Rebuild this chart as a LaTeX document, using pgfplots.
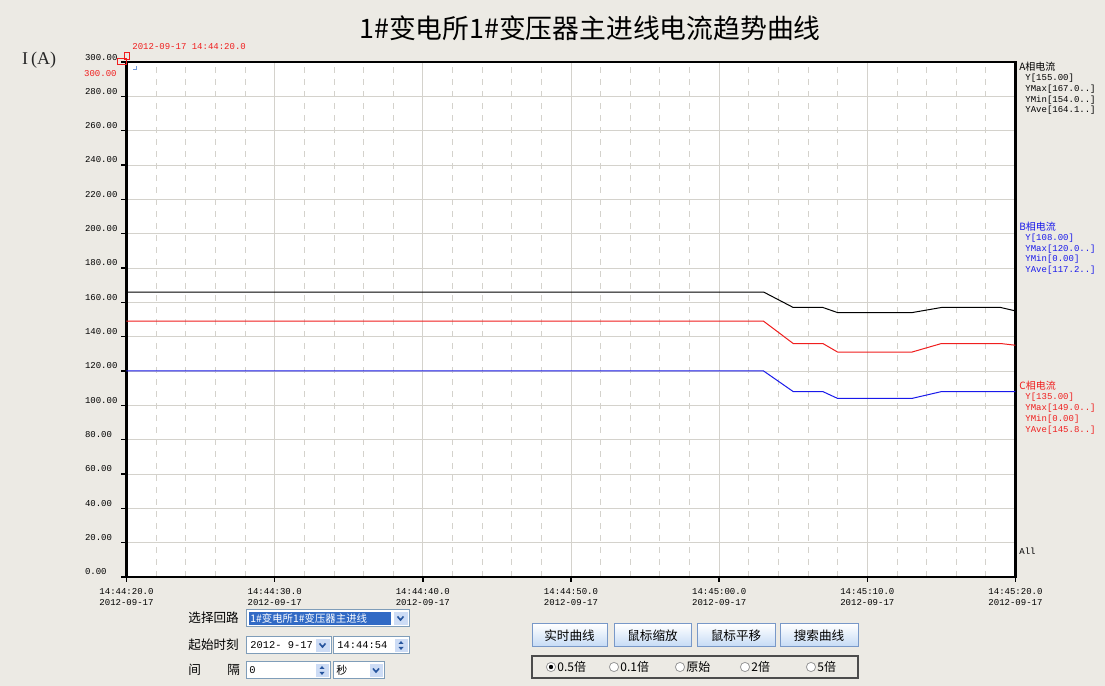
\documentclass[border=0pt]{standalone}
\usepackage{pgfplots}
\pgfplotsset{compat=1.18}
\usepackage{fontspec}
\setmainfont{Liberation Sans}
\newfontfamily\cjk{Noto Sans CJK SC}
\newfontfamily\mono{Liberation Mono}
\newfontfamily\serifA{Liberation Serif}
\definecolor{bgcol}{RGB}{236,234,228}
\definecolor{gridc}{RGB}{212,210,204}
\definecolor{lred}{RGB}{240,30,30}
\definecolor{lblue}{RGB}{25,25,235}
\definecolor{selblue}{RGB}{49,106,197}
\definecolor{btnblue}{RGB}{196,218,245}
\definecolor{btnborder}{RGB}{120,152,200}
\definecolor{boxborder}{RGB}{127,157,185}
\definecolor{arrowbg}{RGB}{205,220,245}
\newcommand{\tf}{\mono\fontsize{4.5}{5.5}\selectfont}
\newcommand{\cf}[1]{\cjk\fontsize{#1}{#1}\selectfont}
\begin{document}
\begin{tikzpicture}
\fill[bgcol] (0,0) rectangle (552.5pt,343pt);
\begin{axis}[
  at={(63.25pt,54.5pt)}, anchor=south west,
  scale only axis, width=444.5pt, height=257.5pt,
  xmin=0, xmax=60, ymin=0, ymax=300,
  axis background/.style={fill=white},
  axis line style={black, line width=1.2pt},
  xtick={0,10,...,60},
  xticklabels={{14:44:20.0\\2012-09-17},{14:44:30.0\\2012-09-17},{14:44:40.0\\2012-09-17},{14:44:50.0\\2012-09-17},{14:45:00.0\\2012-09-17},{14:45:10.0\\2012-09-17},{14:45:20.0\\2012-09-17}},
  minor x tick num=4,
  ytick={0,20,...,300},
  yticklabels={0.00,20.00,40.00,60.00,80.00,100.00,120.00,140.00,160.00,180.00,200.00,220.00,240.00,260.00,280.00,300.00},
  tick align=outside,
  major tick length=2.5pt, minor tick length=0pt,
  tick style={black, line width=0.8pt},
  every tick label/.append style={font=\tf, text=black},
  xticklabel style={align=center, yshift=0.5pt},
  yticklabel style={anchor=base east, text width=16.2pt, align=left, yshift=1pt, xshift=1.5pt},
  grid=both,
  major grid style={gridc, line width=0.4pt},
  minor grid style={gridc, dashed, line width=0.4pt},
  xtick pos=bottom, ytick pos=left,
]
\addplot[black, line width=0.5pt] coordinates {(0,166) (43,166) (45,157) (47,157) (48,154) (53,154) (55,157) (59,157) (60,155)};
\addplot[lred, line width=0.5pt] coordinates {(0,149) (43,149) (45,136) (47,136) (48,131) (53,131) (55,136) (59,136) (60,135)};
\addplot[lblue, line width=0.5pt] coordinates {(0,120) (43,120) (45,108) (47,108) (48,104) (53,104) (55,108) (60,108)};
\end{axis}
\begin{scope}[yshift=343pt, x=0.5pt, y=-0.5pt]
% title
\node[font=\cf{13.4}] at (590,28) {1\#变电所1\#变压器主进线电流趋势曲线};
\node[font=\serifA\fontsize{9}{9}\selectfont, anchor=west, text=black!85] at (15,60) {I\,(A)};
% top-left red markers
\node[font=\tf, text=lred, anchor=west, inner sep=0] at (132,47) {2012-09-17 14:44:20.0};
\node[font=\tf, text=lred, anchor=east, inner sep=0] at (117,74) {300.00};
\draw[lred, line width=0.5pt] (117,59) rectangle (126,65);
\draw[lred, line width=0.5pt] (124,53) rectangle (129,60);
\draw[selblue!70, line width=0.4pt] (133,69) -- (136,69) -- (136,66);
% right legends
\begin{scope}[every node/.style={anchor=west, inner sep=0}]
\node[font=\cf{5}] at (1019,67) {A相电流};
\node[font=\tf] at (1025,78) {Y[155.00]};
\node[font=\tf] at (1025,89) {YMax[167.0..]};
\node[font=\tf] at (1025,100) {YMin[154.0..]};
\node[font=\tf] at (1025,110) {YAve[164.1..]};
\node[font=\cf{5}, text=lblue] at (1019,227) {B相电流};
\node[font=\tf, text=lblue] at (1025,238) {Y[108.00]};
\node[font=\tf, text=lblue] at (1025,249) {YMax[120.0..]};
\node[font=\tf, text=lblue] at (1025,259) {YMin[0.00]};
\node[font=\tf, text=lblue] at (1025,270) {YAve[117.2..]};
\node[font=\cf{5}, text=lred] at (1019,386) {C相电流};
\node[font=\tf, text=lred] at (1025,397) {Y[135.00]};
\node[font=\tf, text=lred] at (1025,408) {YMax[149.0..]};
\node[font=\tf, text=lred] at (1025,419) {YMin[0.00]};
\node[font=\tf, text=lred] at (1025,430) {YAve[145.8..]};
\node[font=\tf] at (1019,551) {All};
\end{scope}
% bottom controls: labels
\begin{scope}[every node/.style={anchor=west, inner sep=0}]
\node[font=\cf{6.3}] at (188,618) {选择回路};
\node[font=\cf{6.3}] at (188,645) {起始时刻};
\node[font=\cf{6.3}] at (188,670) {间};
\node[font=\cf{6.3}] at (227,670) {隔};
\end{scope}
% dropdown 1
\draw[fill=white, draw=boxborder, line width=0.5pt] (246,610) rectangle (409,627);
\fill[selblue] (249,612) rectangle (391,625);
\node[font=\cf{5.2}, text=white, anchor=west, inner sep=0] at (250,618.5) {1\#变电所1\#变压器主进线};
\draw[fill=arrowbg, draw=white, line width=0.4pt] (393,611.5) rectangle (408,625.5);
\draw[selblue!80!black, line width=0.8pt] (397.5,616.5) -- (400.5,620) -- (403.5,616.5);
% date box
\draw[fill=white, draw=boxborder, line width=0.5pt] (246,637) rectangle (331,654);
\node[font=\tf\fontsize{5.2}{6}\selectfont, anchor=west, inner sep=0] at (250,645.5) {2012- 9-17};
\draw[fill=arrowbg, draw=white, line width=0.4pt] (315,638.5) rectangle (330,652.5);
\draw[selblue!80!black, line width=0.8pt] (319.5,643.5) -- (322.5,647) -- (325.5,643.5);
% time box
\draw[fill=white, draw=boxborder, line width=0.5pt] (333,637) rectangle (409,654);
\node[font=\tf\fontsize{5.2}{6}\selectfont, anchor=west, inner sep=0] at (337,645.5) {14:44:54};
\draw[fill=arrowbg, draw=white, line width=0.4pt] (394,638.5) rectangle (408,652.5);
\fill[selblue!80!black] (398.5,644) -- (401,641) -- (403.5,644) -- cycle;
\fill[selblue!80!black] (398.5,647) -- (401,650) -- (403.5,647) -- cycle;
% interval box
\draw[fill=white, draw=boxborder, line width=0.5pt] (246,662) rectangle (330,679);
\node[font=\tf\fontsize{5.2}{6}\selectfont, anchor=west, inner sep=0] at (249,670.5) {0};
\draw[fill=arrowbg, draw=white, line width=0.4pt] (315,663.5) rectangle (329,677.5);
\fill[selblue!80!black] (319.5,669) -- (322,666) -- (324.5,669) -- cycle;
\fill[selblue!80!black] (319.5,672) -- (322,675) -- (324.5,672) -- cycle;
% unit box
\draw[fill=white, draw=boxborder, line width=0.5pt] (333,662) rectangle (384,679);
\node[font=\cf{5.5}, anchor=west, inner sep=0] at (336,670.5) {秒};
\draw[fill=arrowbg, draw=white, line width=0.4pt] (369,663.5) rectangle (383,677.5);
\draw[selblue!80!black, line width=0.8pt] (373,668.5) -- (376,672) -- (379,668.5);
% buttons
\foreach \xa/\xb/\lab in {532/607/实时曲线, 614/691/鼠标缩放, 697/775/鼠标平移, 780/858/搜索曲线}{
  \shade[top color=white, bottom color=btnblue] (\xa,624) rectangle (\xb,647);
  \draw[btnborder, line width=0.5pt] (\xa,624) rectangle (\xb,647);
  \node[font=\cf{6.3}] at ({(\xa+\xb)/2},635.5) {\lab};
}
% radio group
\draw[black!70, line width=0.6pt] (532,656) rectangle (858,678);
\foreach \cx/\lab in {551/0.5倍, 614/0.1倍, 680/原始, 745/2倍, 811/5倍}{
  \draw[fill=white, draw=black!40, line width=0.4pt] (\cx,667) circle[radius=2.3pt];
  \node[font=\cf{6}, anchor=west, inner sep=0] at ({\cx+6},667) {\lab};
}
\fill[black] (551,667) circle[radius=1.1pt];
\end{scope}
\end{tikzpicture}
\end{document}
